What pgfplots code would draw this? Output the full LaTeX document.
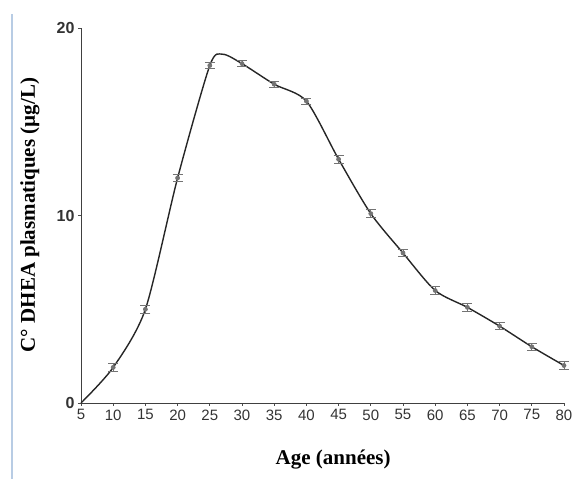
\documentclass[border=0pt]{standalone}
\usepackage{fontspec}
\setmainfont{Liberation Serif}
\newfontfamily\arial{Liberation Sans}
\usepackage{pgfplots}
\pgfplotsset{compat=1.18}
\begin{document}
\begin{tikzpicture}[x=1pt,y=1pt]
\useasboundingbox (0,0) rectangle (574,479);
\draw[color={rgb,255:red,184;green,204;blue,228}, line width=2pt] (12,0) -- (12,465);
\begin{axis}[
  at={(81pt,76pt)}, anchor=south west, scale only axis,
  width=483pt, height=375pt,
  xmin=5, xmax=80, ymin=0, ymax=20,
  axis x line=bottom, axis y line=left,
  axis line style={-, black!75, line width=0.9pt},
  xtick={5,10,...,80}, ytick={0,10,20},
  tick align=outside, major tick length=3pt,
  tick style={black!70, line width=0.8pt},
  /pgf/number format/assume math mode=true,
  xticklabel style={font=\arial\fontsize{15}{15}\selectfont, text=black!80},
  yticklabel style={font=\arial\bfseries\fontsize{16}{16}\selectfont, text=black!80},
  xlabel={\textbf{Age (années)}},
  ylabel={\textbf{C° DHEA plasmatiques (µg/L)}},
  label style={font=\fontsize{21}{21}\selectfont},
  xlabel style={at={(axis description cs:0.522,-0.152)}, anchor=center},
  ylabel style={at={(axis description cs:-0.1056,0.501)}, anchor=center},
  clip=false,
]
\addplot[black!85, line width=1.4pt, smooth, tension=0.45, no marks] coordinates {
(5,0) (10,1.9) (15,5.0) (20,12.0) (25,18.0) (27,18.6) (30,18.1)
(35,17.0) (40,16.1) (45,13.0) (50,10.1) (55,8.0) (60,6.0) (65,5.1) (70,4.1) (75,3.0) (80,2.0)
};
\addplot[black!55, line width=0.7pt, only marks, mark=none,
  error bars/.cd, y dir=both, y explicit,
  error mark=-,
  error bar style={black!55, line width=0.7pt},
  error mark options={black!55, mark size=5pt, line width=0.8pt, rotate=90}]
coordinates {
(10,1.9) +- (0,0.2)
(15,5.0) +- (0,0.2)
(20,12.0) +- (0,0.2)
(25,18.0) +- (0,0.15)
(30,18.1) +- (0,0.15)
(35,17.0) +- (0,0.15)
(40,16.1) +- (0,0.15)
(45,13.0) +- (0,0.2)
(50,10.1) +- (0,0.2)
(55,8.0) +- (0,0.2)
(60,6.0) +- (0,0.2)
(65,5.1) +- (0,0.2)
(70,4.1) +- (0,0.2)
(75,3.0) +- (0,0.2)
(80,2.0) +- (0,0.2)
};
\end{axis}
\end{tikzpicture}
\end{document}
